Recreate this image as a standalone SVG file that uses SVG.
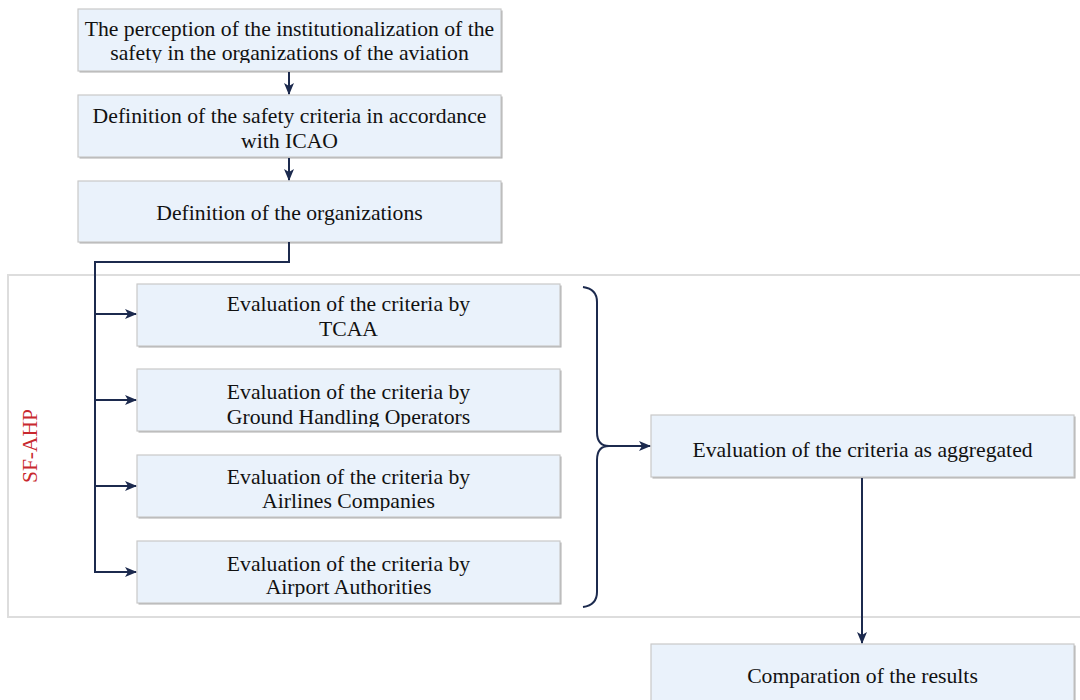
<svg xmlns="http://www.w3.org/2000/svg" width="1080" height="700" viewBox="0 0 1080 700">
<style>
.box{fill:#EAF2FB;stroke:#C9C9C9;stroke-width:1.2}
.sh{fill:#ADADAD}
.t{font-family:"Liberation Serif","Times New Roman",serif;font-size:21.7px;fill:#111;text-anchor:middle}
.c{fill:none;stroke:#1C2A4E;stroke-width:2}
.lbl{font-family:"Liberation Serif","Times New Roman",serif;font-size:21.5px;fill:#C8282E;text-anchor:middle}
</style>
<defs>
<marker id="ah" markerUnits="userSpaceOnUse" markerWidth="12" markerHeight="10" refX="11" refY="5" orient="auto">
<path d="M0,0 L12,5 L0,10 L3,5 z" fill="#1C2A4E"/>
</marker>
<clipPath id="cp1"><rect x="78" y="9" width="423" height="54"/></clipPath>
<clipPath id="cp5"><rect x="137" y="369" width="423" height="58"/></clipPath>
<clipPath id="cp6"><rect x="137" y="455" width="423" height="56"/></clipPath>
<clipPath id="cp7"><rect x="137" y="541" width="423" height="56"/></clipPath>
</defs>

<rect id="sfahp-frame" x="8" y="275" width="1080" height="342" fill="none" stroke="#DDDDDD" stroke-width="2"/>
<text class="lbl" transform="translate(37,446) rotate(-90)">SF-AHP</text>

<g id="n1">
<rect class="sh" x="79.5" y="10.5" width="423" height="62"/>
<rect class="box" x="78" y="9" width="423" height="62"/>
<g clip-path="url(#cp1)">
<text class="t" x="289.5" y="36">The perception of the institutionalization of the</text>
<text class="t" x="289.5" y="60">safety in the organizations of the aviation</text>
</g>
</g>
<g id="n2">
<rect class="sh" x="79.5" y="96.5" width="423" height="62"/>
<rect class="box" x="78" y="95" width="423" height="62"/>
<text class="t" x="289.5" y="123">Definition of the safety criteria in accordance</text>
<text class="t" x="289.5" y="148">with ICAO</text>
</g>
<g id="n3">
<rect class="sh" x="79.5" y="182.5" width="423" height="61"/>
<rect class="box" x="78" y="181" width="423" height="61"/>
<text class="t" x="289.5" y="220">Definition of the organizations</text>
</g>
<g id="n4">
<rect class="sh" x="138.5" y="285.5" width="423" height="62"/>
<rect class="box" x="137" y="284" width="423" height="62"/>
<text class="t" x="348.5" y="311">Evaluation of the criteria by</text>
<text class="t" x="348.5" y="336">TCAA</text>
</g>
<g id="n5">
<rect class="sh" x="138.5" y="370.5" width="423" height="62"/>
<rect class="box" x="137" y="369" width="423" height="62"/>
<g clip-path="url(#cp5)">
<text class="t" x="348.5" y="399">Evaluation of the criteria by</text>
<text class="t" x="348.5" y="424">Ground Handling Operators</text>
</g>
</g>
<g id="n6">
<rect class="sh" x="138.5" y="456.5" width="423" height="62"/>
<rect class="box" x="137" y="455" width="423" height="62"/>
<g clip-path="url(#cp6)">
<text class="t" x="348.5" y="484">Evaluation of the criteria by</text>
<text class="t" x="348.5" y="508">Airlines Companies</text>
</g>
</g>
<g id="n7">
<rect class="sh" x="138.5" y="542.5" width="423" height="62"/>
<rect class="box" x="137" y="541" width="423" height="62"/>
<g clip-path="url(#cp7)">
<text class="t" x="348.5" y="571">Evaluation of the criteria by</text>
<text class="t" x="348.5" y="594">Airport Authorities</text>
</g>
</g>
<g id="n8">
<rect class="sh" x="652.5" y="416.5" width="423" height="62"/>
<rect class="box" x="651" y="415" width="423" height="62"/>
<text class="t" x="862.5" y="457">Evaluation of the criteria as aggregated</text>
</g>
<g id="n9">
<rect class="sh" x="652.5" y="645.5" width="423" height="70"/>
<rect class="box" x="651" y="644" width="423" height="70"/>
<text class="t" x="862.5" y="683">Comparation of the results</text>
</g>

<g id="connectors">
<line class="c" x1="289" y1="72" x2="289" y2="94" marker-end="url(#ah)"/>
<line class="c" x1="289" y1="158" x2="289" y2="180" marker-end="url(#ah)"/>
<polyline class="c" points="289,242 289,262 95,262 95,572"/>
<line class="c" x1="94" y1="314" x2="136" y2="314" marker-end="url(#ah)"/>
<line class="c" x1="94" y1="400" x2="136" y2="400" marker-end="url(#ah)"/>
<line class="c" x1="94" y1="486" x2="136" y2="486" marker-end="url(#ah)"/>
<line class="c" x1="94" y1="572" x2="136" y2="572" marker-end="url(#ah)"/>
<path class="c" d="M583,287 Q597,289 597,302 L597,432 Q597,446 609,446 Q597,446 597,460 L597,592 Q597,605 583,607"/>
<line class="c" x1="607" y1="446" x2="650" y2="446" marker-end="url(#ah)"/>
<line class="c" x1="862" y1="478" x2="862" y2="643" marker-end="url(#ah)"/>
</g>
</svg>
